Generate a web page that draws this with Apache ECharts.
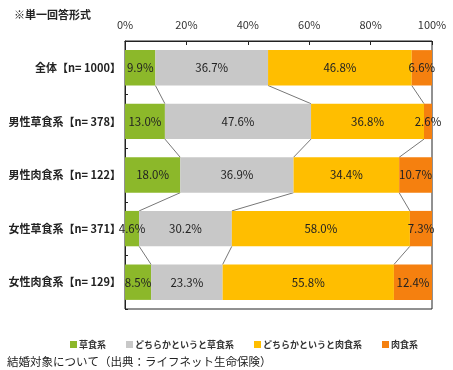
<!DOCTYPE html>
<html>
<head>
<meta charset="utf-8">
<script src="https://cdn.jsdelivr.net/npm/echarts@6/dist/echarts.min.js"></script>
<style>html,body{margin:0;padding:0;background:#fff}#c{width:453px;height:370px}</style>
</head>
<body>
<div id="c"></div>
<script>
const categories = ['全体【n= 1000】', '男性草食系【n= 378】', '男性肉食系【n= 122】', '女性草食系【n= 371】', '女性肉食系【n= 129】'];
const seriesNames = ['草食系', 'どちらかというと草食系', 'どちらかというと肉食系', '肉食系'];
const herbivore = [9.9, 13.0, 18.0, 4.6, 8.5];
const ratherHerbivore = [36.7, 47.6, 36.9, 30.2, 23.3];
const ratherCarnivore = [46.8, 36.8, 34.4, 58.0, 55.8];
const carnivore = [6.6, 2.6, 10.7, 7.3, 12.4];
const xTicks = [0, 20, 40, 60, 80, 100];

const colors = ['#8CB82A', '#C8C8C8', '#FFBE00', '#F5800F'];
const values = [herbivore, ratherHerbivore, ratherCarnivore, carnivore];
const BAR_RATIO = 0.66;

const chart = echarts.init(document.getElementById('c'), null, {renderer: 'canvas'});
const fontFam = '"Noto Sans CJK JP", "Noto Sans", sans-serif';

const barSeries = seriesNames.map((n, k) => ({
  name: n,
  type: 'bar',
  stack: 'total',
  barWidth: (BAR_RATIO * 100) + '%',
  itemStyle: {color: colors[k]},
  label: {show: true, position: 'inside', formatter: p => p.value.toFixed(1) + '%', color: '#222', fontSize: 11.5, fontFamily: fontFam},
  data: values[k],
  z: 2
}));

const connectorSeries = {
  type: 'custom',
  silent: true,
  z: 1,
  renderItem: function (params, api) {
    const i = api.value(0);
    const band = api.size([0, 1])[1];
    const half = band * BAR_RATIO / 2;
    const children = [];
    let c1 = 0, c2 = 0;
    for (let k = 0; k < 3; k++) {
      c1 += values[k][i];
      c2 += values[k][i + 1];
      const p1 = api.coord([c1, i]);
      const p2 = api.coord([c2, i + 1]);
      children.push({
        type: 'line',
        shape: {x1: p1[0], y1: p1[1] + half, x2: p2[0], y2: p2[1] - half},
        style: {stroke: '#777', lineWidth: 1}
      });
    }
    return {type: 'group', children: children};
  },
  data: [[0], [1], [2], [3]]
};

chart.setOption({
  animation: false,
  textStyle: {fontFamily: fontFam},
  title: [
    {text: '※単一回答形式', left: 9, top: 4, textStyle: {fontSize: 11, fontWeight: 'bold', color: '#222', fontFamily: fontFam}},
    {text: '結婚対象について（出典：ライフネット生命保険）', left: 2, top: 351, textStyle: {fontSize: 11.5, fontWeight: 'normal', color: '#222', fontFamily: fontFam}}
  ],
  legend: {
    data: seriesNames,
    left: 65, top: 335, width: 420,
    icon: 'rect', itemWidth: 7, itemHeight: 7, itemGap: 20,
    textStyle: {fontSize: 9, fontWeight: 'bold', color: '#333', fontFamily: fontFam, padding: [0, 0, 0, -3]}
  },
  grid: {left: 125, top: 41, width: 307, height: 268, show: true, borderColor: '#222', borderWidth: 1, containLabel: false},
  xAxis: {
    type: 'value', position: 'top', min: 0, max: 100, interval: 20,
    axisLine: {show: true, lineStyle: {color: '#222'}},
    axisTick: {show: true, inside: true, length: 4, lineStyle: {color: '#222'}},
    splitLine: {show: false},
    axisLabel: {formatter: v => xTicks.includes(v) ? v + '%' : '', fontSize: 11, color: '#333', margin: 11, fontFamily: fontFam}
  },
  yAxis: {
    type: 'category', data: categories, inverse: true,
    axisLine: {show: true, lineStyle: {color: '#222'}},
    axisTick: {show: true, inside: true, length: 3, lineStyle: {color: '#222'}},
    axisLabel: {fontSize: 11, fontWeight: 'bold', color: '#222', margin: 4, fontFamily: fontFam}
  },
  series: barSeries.concat([connectorSeries])
});
</script>
</body>
</html>
